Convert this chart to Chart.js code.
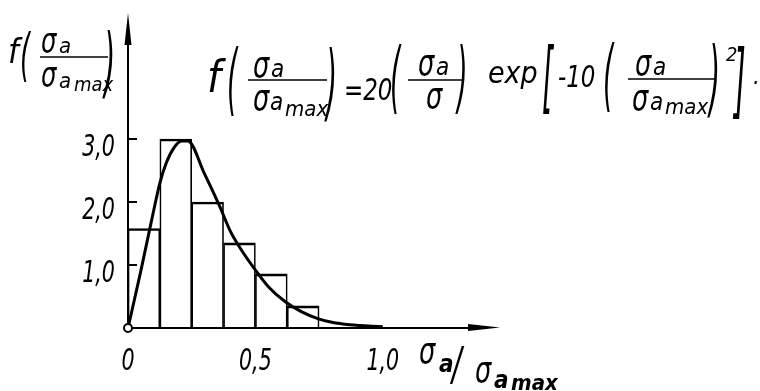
<!DOCTYPE html>
<html>
<head>
<meta charset="utf-8">
<script src="https://cdn.jsdelivr.net/npm/chart.js@4"></script>
<style>
  html, body { margin: 0; padding: 0; background: #fff; }
  canvas { display: block; }
</style>
</head>
<body>
<canvas id="chart" width="760" height="391"></canvas>
<script>
// ===== histogram bins (centres, 0.125 wide) =====
const binCenters = [0.0625, 0.1875, 0.3125, 0.4375, 0.5625, 0.6875];
const binHeights = [1.58, 3.0, 2.0, 1.35, 0.86, 0.35];

// ===== density curve f(x) =====
const curveX = [0, 0.05, 0.1, 0.125, 0.15, 0.18, 0.21, 0.235, 0.3, 0.36, 0.4, 0.44, 0.5, 0.55, 0.616, 0.68, 0.745, 0.8, 0.87, 1.0];
const curveY = [0, 0.9, 1.85, 2.3, 2.62, 2.86, 2.97, 2.97, 2.45, 1.93, 1.55, 1.27, 0.92, 0.66, 0.42, 0.26, 0.15, 0.09, 0.05, 0.02];

// ===== axis ticks =====
const yTicks = [1, 2, 3];
const yTickLabels = ["1,0", "2,0", "3,0"];
const xTicks = [0, 0.5, 1.0];
const xTickLabels = ["0", "0,5", "1,0"];

const FONT = "'DejaVu Sans Condensed', 'DejaVu Sans', sans-serif";

// draw text, optionally stretched/squeezed
function tx(ctx, s, x, y, size, sx = 1, sy = 1, weight = "") {
  ctx.save();
  ctx.font = `italic ${weight} ${size}px ${FONT}`;
  ctx.textBaseline = "alphabetic";
  ctx.textAlign = "left";
  ctx.translate(x, y);
  ctx.scale(sx, sy);
  ctx.fillText(s, 0, 0);
  ctx.restore();
}

// tall narrow sigma
const sig = (ctx, x, y, size = 38) => tx(ctx, "σ", x, y, size, 0.75, 1);

function hline(ctx, x1, x2, y, w = 1.5) {
  ctx.beginPath();
  ctx.lineWidth = w;
  ctx.moveTo(x1, y);
  ctx.lineTo(x2, y);
  ctx.stroke();
}

// ---- axes with arrows, ticks, labels and formula ----
const axesPlugin = {
  id: "axesPlugin",
  beforeDatasetsDraw(chart) {
    const { ctx, scales: { x, y } } = chart;
    const x0 = x.getPixelForValue(0);
    const y0 = y.getPixelForValue(0);
    const xEnd = x.right;
    const yTop = y.top;
    ctx.save();
    ctx.strokeStyle = "#000";
    ctx.fillStyle = "#000";
    ctx.lineWidth = 2;

    // y axis
    ctx.beginPath();
    ctx.moveTo(x0, y0);
    ctx.lineTo(x0, yTop + 20);
    ctx.stroke();
    ctx.beginPath();
    ctx.moveTo(x0, yTop);
    ctx.lineTo(x0 - 3.5, yTop + 32);
    ctx.lineTo(x0 + 3.5, yTop + 32);
    ctx.closePath();
    ctx.fill();

    // x axis
    ctx.beginPath();
    ctx.moveTo(x0, y0);
    ctx.lineTo(xEnd - 20, y0);
    ctx.stroke();
    ctx.beginPath();
    ctx.moveTo(xEnd, y0 - 0.5);
    ctx.lineTo(xEnd - 32, y0 - 4);
    ctx.lineTo(xEnd - 32, y0 + 3);
    ctx.closePath();
    ctx.fill();

    // y ticks (inside)
    yTicks.forEach(v => hline(ctx, x0, x0 + 9, y.getPixelForValue(v), 2));
    ctx.restore();
  },
  afterDraw(chart) {
    const { ctx, scales: { x, y } } = chart;
    ctx.save();
    ctx.fillStyle = "#000";
    ctx.strokeStyle = "#000";

    // tick labels
    yTicks.forEach((v, i) => {
      ctx.save();
      ctx.font = `italic 27px ${FONT}`;
      ctx.textAlign = "right";
      ctx.textBaseline = "middle";
      ctx.translate(x.getPixelForValue(0) - 13, y.getPixelForValue(v) + 9);
      ctx.scale(0.85, 1.1);
      ctx.fillText(yTickLabels[i], 0, 0);
      ctx.restore();
    });
    xTicks.forEach((v, i) => {
      ctx.save();
      ctx.font = `italic 27px ${FONT}`;
      ctx.textAlign = "center";
      ctx.textBaseline = "middle";
      ctx.translate(x.getPixelForValue(v), 362);
      ctx.scale(0.85, 1.1);
      ctx.fillText(xTickLabels[i], 0, 0);
      ctx.restore();
    });

    // y axis title f(σa/σamax)
    tx(ctx, "f", 8, 63, 34);
    tx(ctx, "(", 20, 74, 36, 0.8, 1.6);
    sig(ctx, 41, 53, 36);
    tx(ctx, "a", 59, 53, 22);
    hline(ctx, 40, 108, 57);
    sig(ctx, 41, 87, 36);
    tx(ctx, "a", 59, 88, 22);
    tx(ctx, "max", 74, 91, 20);
    tx(ctx, ")", 104, 88, 40, 0.8, 1.9);

    // x axis title σa/σamax
    sig(ctx, 419, 363);
    tx(ctx, "a", 439, 372, 24, 1, 1, "bold");
    tx(ctx, "/", 452, 380, 32, 1, 1.45);
    sig(ctx, 475, 382);
    tx(ctx, "a", 494, 388, 24, 1, 1, "bold");
    tx(ctx, "max", 511, 390, 22, 1, 1, "bold");

    // formula
    tx(ctx, "f", 207, 92, 44);
    tx(ctx, "(", 227, 106, 40, 0.75, 1.95);
    sig(ctx, 253, 77);
    tx(ctx, "a", 271, 77, 24);
    hline(ctx, 248, 327, 80);
    sig(ctx, 253, 110);
    tx(ctx, "a", 270, 110, 24);
    tx(ctx, "max", 285, 116, 22);
    tx(ctx, ")", 326, 111, 42, 0.75, 2);
    tx(ctx, "=20", 344, 100, 30, 0.85);
    tx(ctx, "(", 390, 104, 40, 0.75, 1.95);
    sig(ctx, 418, 75);
    tx(ctx, "a", 436, 75, 24);
    hline(ctx, 408, 462, 80);
    sig(ctx, 426, 108);
    tx(ctx, ")", 457, 104, 40, 0.75, 1.95);
    tx(ctx, "exp", 488, 83, 30);
    tx(ctx, "[", 542, 104, 40, 0.8, 1.95);
    tx(ctx, "-10", 558, 87, 30, 0.85);
    tx(ctx, "(", 603, 102, 40, 0.75, 1.95);
    sig(ctx, 635, 75);
    tx(ctx, "a", 653, 75, 24);
    hline(ctx, 628, 716, 79);
    sig(ctx, 632, 110);
    tx(ctx, "a", 650, 110, 24);
    tx(ctx, "max", 665, 114, 22);
    tx(ctx, ")", 709, 107, 42, 0.75, 2);
    tx(ctx, "2", 726, 61, 20);
    tx(ctx, "]", 734, 108, 42, 0.8, 1.95);
    tx(ctx, ".", 753, 84, 24);
    ctx.restore();
  }
};

new Chart(document.getElementById("chart"), {
  data: {
    datasets: [
      {
        type: "scatter",
        data: [{ x: 0, y: 0 }],
        pointRadius: 4,
        pointBackgroundColor: "#fff",
        pointBorderColor: "#000",
        pointBorderWidth: 2,
        clip: false,
        order: 0
      },
      {
        type: "line",
        data: curveX.map((v, i) => ({ x: v, y: curveY[i] })),
        borderColor: "#000",
        borderWidth: 3,
        pointRadius: 0,
        cubicInterpolationMode: "monotone",
        fill: false,
        clip: false,
        order: 1
      },
      {
        type: "bar",
        data: binCenters.map((v, i) => ({ x: v, y: binHeights[i] })),
        backgroundColor: "rgba(0,0,0,0)",
        borderColor: "#000",
        borderWidth: { top: 2, left: 1, right: 1, bottom: 0 },
        borderSkipped: "bottom",
        barPercentage: 1,
        categoryPercentage: 1,
        order: 2
      }
    ]
  },
  options: {
    responsive: false,
    animation: false,
    devicePixelRatio: 1,
    layout: { padding: { left: 128, top: 13, right: 260, bottom: 63 } },
    scales: {
      x: { type: "linear", min: 0, max: 1.46, offset: false, display: false },
      y: { min: 0, max: 5.0, display: false }
    },
    plugins: {
      legend: { display: false },
      tooltip: { enabled: false }
    }
  },
  plugins: [axesPlugin]
});
</script>
</body>
</html>
